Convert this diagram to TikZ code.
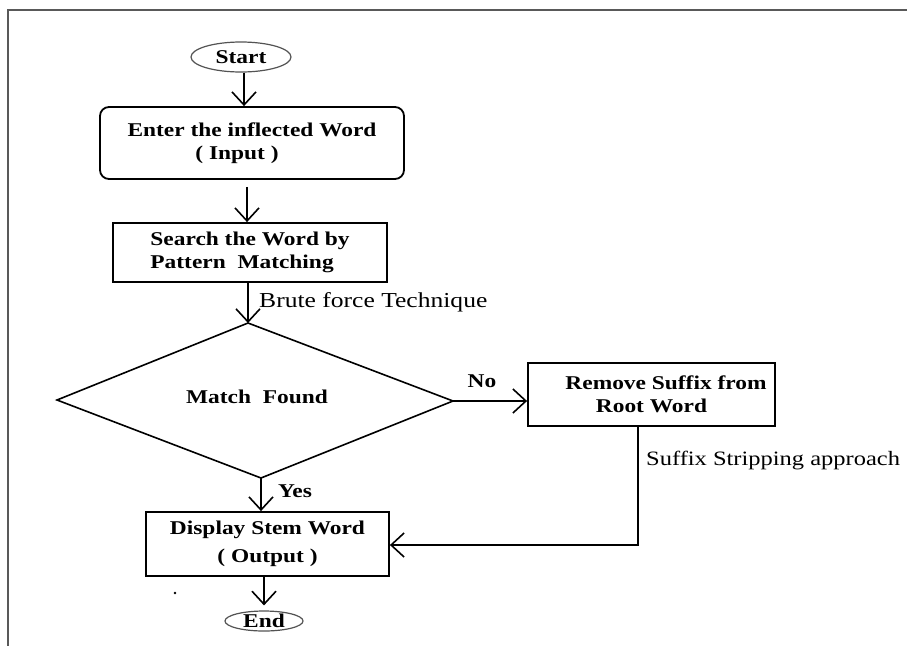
\documentclass[tikz,border=0pt]{standalone}
\usepackage{fontspec}
\setmainfont{Liberation Serif}[FakeStretch=1.2]
\usetikzlibrary{arrows.meta,shapes.geometric}
\newcommand\fsz{\fontsize{19.5}{23}\selectfont}
\newcommand\lsz{\fontsize{21.3}{25}\selectfont}
\newcommand\midtext[1]{\raisebox{-0.34em}[0pt][0pt]{#1}}
\begin{document}
\begin{tikzpicture}[x=1pt,y=-1pt,
  box/.style={draw, line width=1.8pt, inner sep=0pt, font=\fsz\bfseries},
  term/.style={draw=gray!65!black, ellipse, line width=1.2pt, inner sep=0pt, font=\fsz\bfseries},
  arr/.style={line width=1.6pt, -{Straight Barb[length=13pt,width=24pt,line width=1.6pt]}},
  lab/.style={inner sep=0pt, font=\lsz},
  blab/.style={inner sep=0pt, font=\fsz\bfseries}
]
\useasboundingbox (0,0) rectangle (907,646);
\draw[gray!70!black, line width=1.5pt] (907,10) -- (8,10) -- (8,646);

% terminals and boxes
\node[term, minimum width=100pt, minimum height=30pt] (start) at (241,57) {\midtext{Start}};
\node[box, rounded corners=9pt, minimum width=304pt, minimum height=72pt, align=center] (enter) at (252,143) {Enter the inflected Word\\( Input )\hspace*{30pt}};
\node[box, minimum width=274pt, minimum height=59pt, align=left] (search) at (250,252.5) {Search the Word by\\Pattern\ \ Matching};

% decision diamond
\coordinate (dtop) at (248,323);
\coordinate (dright) at (453,401);
\coordinate (dbot) at (261,478);
\coordinate (dleft) at (57,400);
\draw[line width=1.6pt, line join=miter] (dtop) -- (dright) -- (dbot) -- (dleft) -- cycle;
\node[blab] (match) at (257,397) {Match\ \ Found};

\node[box, minimum width=247pt, minimum height=63pt, align=center] (remove) at (651.5,394.5) {\hspace*{29pt}Remove Suffix from\\Root Word};
\node[box, minimum width=243pt, minimum height=64pt, align=center, font=\fontsize{19.5}{28}\selectfont\bfseries] (display) at (267.5,544) {Display Stem Word\\( Output )};
\node[term, minimum width=78pt, minimum height=20pt] (end) at (264,621) {\midtext{End}};

% labels
\node[lab, anchor=west] (brute) at (259,302) {Brute force Technique};
\node[lab, anchor=west, font=\fontsize{20.4}{24}\selectfont] (suffix) at (646,461) {Suffix Stripping approach};
\node[blab] (no) at (482,381) {No};
\node[blab] (yes) at (295,491) {Yes};

% connectors
\draw[arr] (start.south -| 244,0) -- (enter.north -| 244,0);
\draw[arr, shorten <=7pt] (enter.south -| 247,0) -- (search.north -| 247,0);
\draw[arr] (search.south -| dtop) -- (dtop);
\draw[arr] (dright) -- (dright -| remove.west);
\draw[arr] (dbot) -- (dbot |- display.north);
\coordinate (corner) at (638,545);
\draw[arr] (remove.south -| corner) -- (corner) -- (corner -| display.east);
\draw[arr, shorten >=5pt] (display.south -| end.north) -- (end.north);

\fill (175,593) circle (1.3pt);
\end{tikzpicture}
\end{document}
